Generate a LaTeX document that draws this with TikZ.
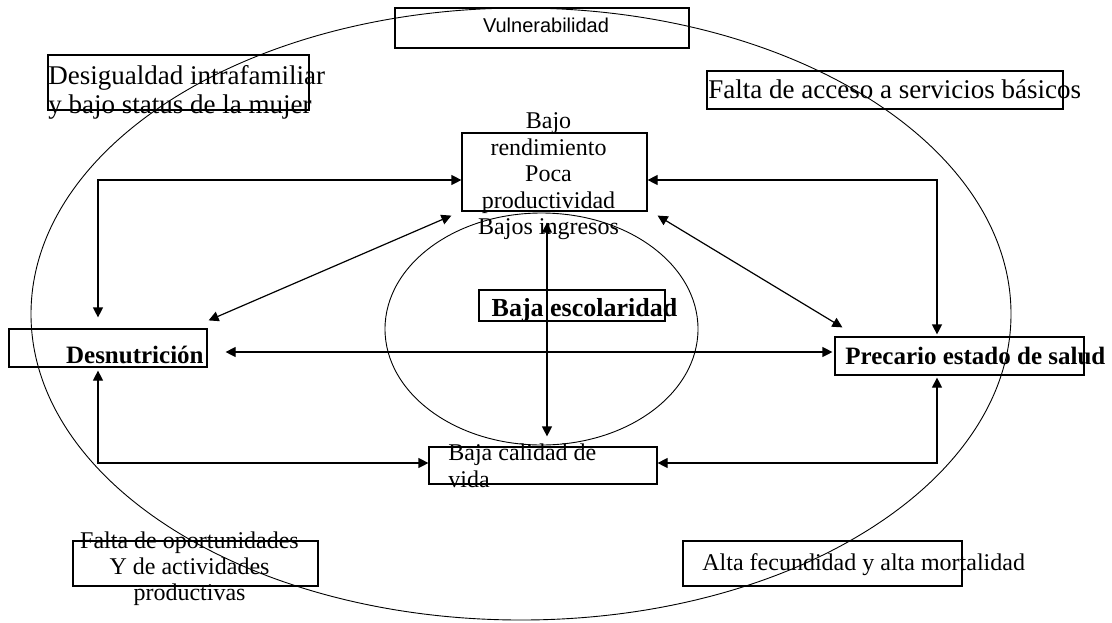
\documentclass[tikz,border=0pt]{standalone}
\usepackage{fontspec}
\setmainfont{Liberation Serif}
\newfontfamily\vulfont{Liberation Sans}
\usetikzlibrary{arrows.meta}

\tikzset{
  box/.style={draw, inner sep=0pt, line width=0.6pt},
  lbl/.style={inner sep=0pt, font=\fontsize{12}{13}\selectfont},
  lblbig/.style={inner sep=0pt, font=\fontsize{13.5}{14.5}\selectfont},
  lblbold/.style={inner sep=0pt, font=\fontsize{12.5}{14}\selectfont\bfseries},
  link/.style={line width=0.6pt, {Triangle[length=5pt,width=5pt]}-{Triangle[length=5pt,width=5pt]}}
}

\begin{document}
\begin{tikzpicture}[x=0.5pt, y=-0.5pt]
  \useasboundingbox (0,0) rectangle (1112,622);

  % Outer and inner ellipse
  \draw[line width=0.45pt] (521,314) ellipse [x radius=490, y radius=306];
  \draw[line width=0.45pt] (541.5,329) ellipse [x radius=156.5, y radius=116];

  % Boxes
  \node[box, minimum width=147pt, minimum height=20pt] (vul) at (542,28) {};
  \node[box, minimum width=130.5pt, minimum height=27.5pt] (desig) at (178.5,82.5) {};
  \node[box, minimum width=178pt, minimum height=19pt] (acc) at (885,90) {};
  \node[box, minimum width=92.5pt, minimum height=39pt] (cent) at (554.5,172) {};
  \node[box, minimum width=93pt, minimum height=15.5pt] (esc) at (572,305.5) {};
  \node[box, minimum width=99pt, minimum height=19pt] (desn) at (108,348) {};
  \node[box, minimum width=124.5pt, minimum height=19pt] (prec) at (959.5,356) {};
  \node[box, minimum width=114pt, minimum height=18.5pt] (cal) at (543,465.5) {};
  \node[box, minimum width=122.5pt, minimum height=22.5pt] (opor) at (195.5,563.5) {};
  \node[box, minimum width=139.5pt, minimum height=22.5pt] (alta) at (822.5,563.5) {};

  % Texts
  \node[inner sep=0pt, font=\vulfont\fontsize{10}{12}\selectfont, anchor=base] (vult) at (546,32) {Vulnerabilidad};
  \node[lblbig, align=left, anchor=west] (desigt) at (48,92.3) {Desigualdad intrafamiliar\\y bajo status de la mujer};
  \node[lblbig, anchor=base west] (acct) at (708,98) {Falta de acceso a servicios básicos};
  \node[lbl, font=\fontsize{12}{13.25}\selectfont, align=center] (centt) at (548.5,176.5) {Bajo\\rendimiento\\Poca\\productividad\\Bajos ingresos};
  \node[lblbold, font=\fontsize{13}{14}\selectfont\bfseries, anchor=base] (esct) at (584.5,316) {Baja escolaridad};
  \node[lblbold, anchor=base east] (desnt) at (204,363) {Desnutrición};
  \node[lblbold, anchor=base west] (prect) at (845,364) {Precario estado de salud};
  \node[lbl, font=\fontsize{12}{13.5}\selectfont, align=left, anchor=west] (calt) at (448,465.3) {Baja calidad de\\vida};
  \node[lbl, align=center] (oport) at (189.5,568.4) {Falta de oportunidades\\Y de actividades\\productivas};
  \node[lbl, anchor=base west] (altat) at (702,570) {Alta fecundidad y alta mortalidad};

  % Connectors
  \draw[link] ([xshift=-5pt,yshift=5.5pt]desn.north) |- ([yshift=-4pt]cent.west);
  \draw[link] ([yshift=-4pt]cent.east) -| ([xshift=-11.25pt,yshift=1pt]prec.north);
  \draw[link] ([xshift=-5pt,yshift=-2pt]cent.south west) -- ([xshift=0.5pt,yshift=4pt]desn.north east);
  \draw[link] ([xshift=5pt,yshift=-2pt]cent.south east) -- ([xshift=4pt,yshift=4.5pt]prec.north west);
  \draw[link] ([xshift=9pt,yshift=-2pt]desn.east) -- ([xshift=-1pt,yshift=2pt]prec.west);
  \draw[link] ([xshift=-3.75pt,yshift=-5.5pt]cent.south) -- ([xshift=2pt,yshift=5pt]cal.north);
  \draw[link] ([xshift=-5pt,yshift=-1.5pt]desn.south) |- ([yshift=1.25pt]cal.west);
  \draw[link] ([yshift=1.25pt]cal.east) -| ([xshift=-11.25pt,yshift=-1pt]prec.south);
\end{tikzpicture}
\end{document}
